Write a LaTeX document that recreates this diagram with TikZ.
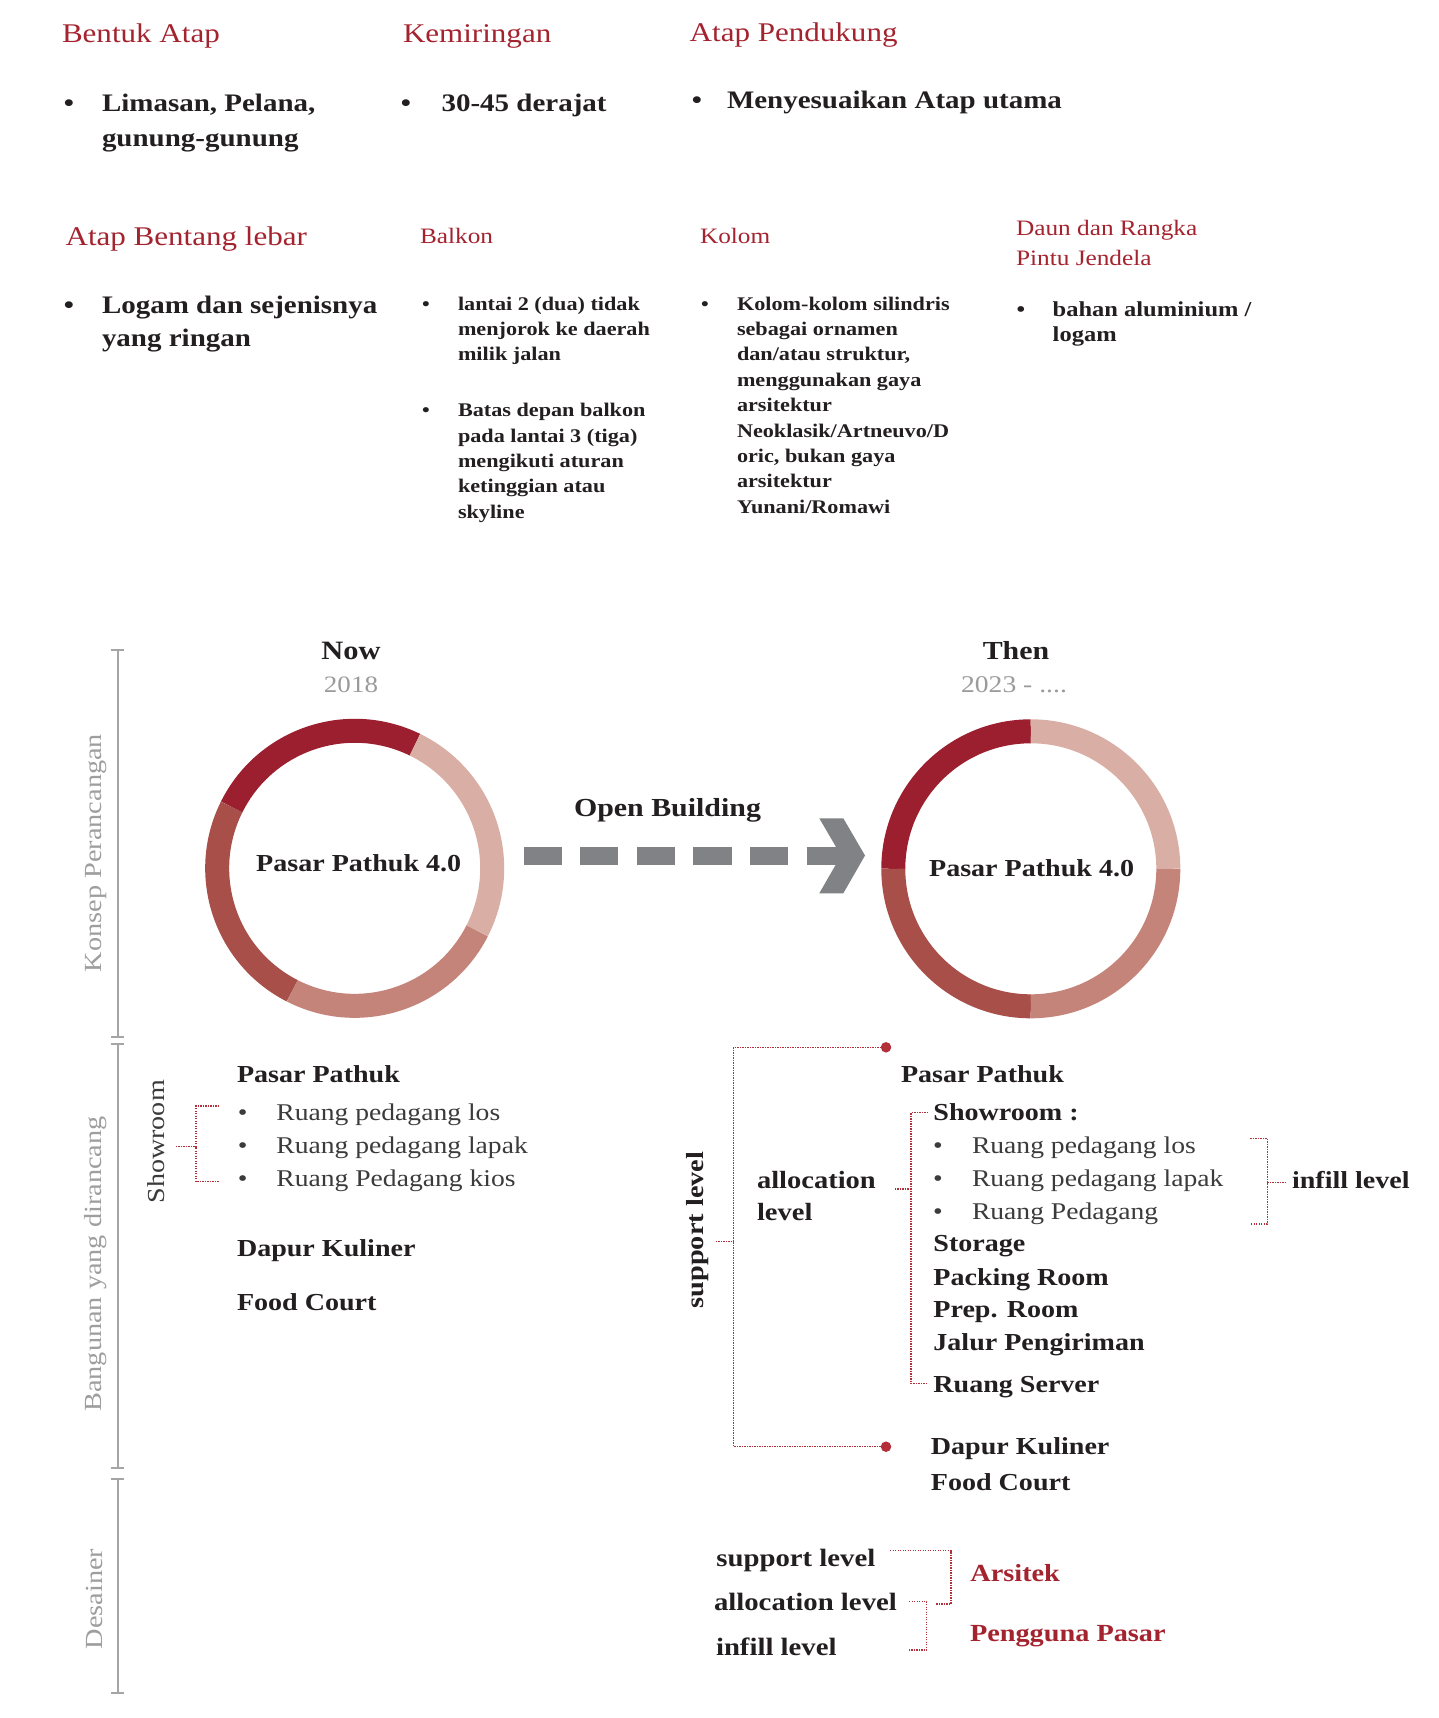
\documentclass[tikz,border=0pt]{standalone}
\usepackage{fontspec}
\setmainfont{Liberation Serif}[FakeStretch=1.15]
\usetikzlibrary{calc}
\definecolor{hred}{HTML}{A3232F}
\definecolor{ink}{HTML}{231F20}
\definecolor{soft}{HTML}{3B3B3B}
\definecolor{axisg}{HTML}{A5A5A5}
\definecolor{labg}{HTML}{9E9E9E}
\definecolor{yearg}{HTML}{9B9B9B}
\definecolor{arrg}{HTML}{808285}
\definecolor{rA}{HTML}{9B1F2E}
\definecolor{rB}{HTML}{A94F49}
\definecolor{rC}{HTML}{C5847A}
\definecolor{rD}{HTML}{D9AFA5}
\definecolor{dotr}{HTML}{B3303A}
\newcommand\fsz[1]{\fontsize{#1}{#1}\selectfont}
\newcommand\mlines[2]{\vtop{\baselineskip=#1\relax\lineskiplimit=-1000pt\halign{##\hfil\cr#2\crcr}}}
\tikzset{
  base/.style={inner sep=0pt, outer sep=0pt, anchor=base west},
  headA/.style={base, text=hred, font=\fsz{27}},
  headB/.style={base, text=hred, font=\fsz{22}},
  bigb/.style={base, text=ink, font=\fsz{25.2}\bfseries},
  smallb/.style={base, text=ink, font=\fsz{19.3}\bfseries},
  midb/.style={base, text=ink, font=\fsz{21.3}\bfseries},
  body/.style={base, text=ink, font=\fsz{24.4}\bfseries},
  soft/.style={base, text=soft, font=\fsz{24}},
  bul/.style={inner sep=0pt, anchor=base},
  sidelab/.style={inner sep=0pt, rotate=90, text=labg, font=\fsz{24.6}},
  axisline/.style={axisg, line width=2pt},
  dotline/.style={dotr, line width=1.5pt, dash pattern=on 1.4pt off 1.1pt},
  reddot/.style={circle, fill=dotr, inner sep=0pt, minimum size=10.5pt},
  redb/.style={base, text=hred, font=\fsz{24.6}\bfseries},
}
\begin{document}
\begin{tikzpicture}[x=1pt,y=1pt]
\fill[white] (0,0) rectangle (1439,-1718);
\path[use as bounding box] (0,0) rectangle (1439,-1718);

% ---------- top row ----------
\node[headA] (h1) at (62,-42.7) {Bentuk Atap};
\node[headA] (h2) at (403,-42.7) {Kemiringan};
\node[headA] (h3) at (689.7,-41.7) {Atap Pendukung};
\node[bul, font=\fsz{25.2}\bfseries, text=ink] (b1) at (69,-111.7) {•};
\node[bigb] (t1) at (102,-111.7) {\mlines{35pt}{Limasan, Pelana,\cr gunung-gunung}};
\node[bul, font=\fsz{25.2}\bfseries, text=ink] (b2) at (406,-111.7) {•};
\node[bigb] (t2) at (441.6,-111.7) {30-45 derajat};
\node[bul, font=\fsz{25.2}\bfseries, text=ink] (b3) at (697,-109) {•};
\node[bigb] (t3) at (727,-109) {Menyesuaikan Atap utama};

% ---------- second row ----------
\node[headA] (h4) at (65.6,-245) {Atap Bentang lebar};
\node[bul, font=\fsz{25.2}\bfseries, text=ink] (b4) at (69,-313.3) {•};
\node[bigb] (t4) at (102,-313.3) {\mlines{33.4pt}{Logam dan sejenisnya\cr yang ringan}};

\node[headB] (h5) at (420,-243.3) {Balkon};
\node[bul, font=\fsz{19.1}\bfseries, text=ink] (b5) at (426,-310) {•};
\node[smallb] (t5) at (458,-310) {\mlines{25.3pt}{lantai 2 (dua) tidak\cr menjorok ke daerah\cr milik jalan}};
\node[bul, font=\fsz{19.1}\bfseries, text=ink] (b6) at (426,-416.7) {•};
\node[smallb] (t6) at (458,-416.7) {\mlines{25.4pt}{Batas depan balkon\cr pada lantai 3 (tiga)\cr mengikuti aturan\cr ketinggian atau\cr skyline}};

\node[headB] (h6) at (700,-243.3) {Kolom};
\node[bul, font=\fsz{19.1}\bfseries, text=ink] (b7) at (705,-310) {•};
\node[smallb] (t7) at (737,-310) {\mlines{25.4pt}{Kolom-kolom silindris\cr sebagai ornamen\cr dan/atau struktur,\cr menggunakan gaya\cr arsitektur\cr Neoklasik/Artneuvo/D\cr oric, bukan gaya\cr arsitektur\cr Yunani/Romawi}};

\node[headB] (h7) at (1016,-235) {\mlines{30pt}{Daun dan Rangka\cr Pintu Jendela}};
\node[bul, font=\fsz{21.3}\bfseries, text=ink] (b8) at (1021,-316.7) {•};
\node[midb] (t8) at (1052.7,-316.7) {\mlines{25pt}{bahan aluminium /\cr logam}};

% ---------- left axis ----------
\coordinate (a1) at (117.5,-650);
\coordinate (a2) at (117.5,-1036.7);
\coordinate (a3) at (117.5,-1044);
\coordinate (a4) at (117.5,-1468.3);
\coordinate (a5) at (117.5,-1479);
\coordinate (a6) at (117.5,-1692.7);
\draw[axisline] (a1) -- (a2);
\draw[axisline] (a3) -- (a4);
\draw[axisline] (a5) -- (a6);
\foreach \p in {a1,a2,a3,a4,a5,a6}
  \draw[axisline] ([xshift=-6.7pt]\p) -- ([xshift=6.7pt]\p);
\node[sidelab] (s1) at (96.4,-853) {Konsep Perancangan};
\node[sidelab] (s2) at (96,-1264) {Bangunan yang dirancang};
\node[sidelab] (s3) at (94.4,-1599) {Desainer};

% ---------- circles ----------
\node[inner sep=0pt, anchor=base, text=ink, font=\fsz{26.5}\bfseries] (now) at (351,-659.3) {Now};
\node[inner sep=0pt, anchor=base, text=yearg, font=\fsz{23.5}] (y1) at (351,-692.7) {2018};
\node[inner sep=0pt, anchor=base, text=ink, font=\fsz{26}\bfseries] (then) at (1016,-659.3) {Then};
\node[inner sep=0pt, anchor=base, text=yearg, font=\fsz{24}] (y2) at (1014,-692.7) {2023 - ....};

\coordinate (L) at (354.7,-868.3);
\coordinate (R) at (1030.8,-868.8);
\foreach \a/\b/\c in {64/153.5/rA,153.5/243/rB,243/333/rC,333/424/rD}
  \draw[\c, line width=24pt] ([shift={(\a:137.5)}]L) arc[start angle=\a, end angle=\b, radius=137.5];
\foreach \a/\b/\c in {90/180/rA,180/270/rB,270/360/rC,0/90/rD}
  \draw[\c, line width=24pt] ([shift={(\a:137.5)}]R) arc[start angle=\a, end angle=\b, radius=137.5];
\node[inner sep=0pt, anchor=base, text=ink, font=\fsz{24.4}\bfseries] (pl) at (358.7,-871.5) {Pasar Pathuk 4.0};
\node[inner sep=0pt, anchor=base, text=ink, font=\fsz{24.4}\bfseries] (pr) at (1031.6,-876) {Pasar Pathuk 4.0};

% ---------- open building arrow ----------
\node[base, text=ink, font=\fsz{26}\bfseries] (ob) at (574,-816.7) {Open Building};
\coordinate (ds) at (523.6,-855.5);
\coordinate (de) at (842,-855.5);
\draw[arrg, line width=18pt, dash pattern=on 38.2pt off 18.4pt] (ds) -- (de);
\fill[arrg] (819.3,-818.3) -- (843.3,-818.3) -- (865,-855.5) -- (843.3,-893.3) -- (819.3,-893.3) -- (841,-855.5) -- cycle;

% ---------- left lower ----------
\node[inner sep=0pt, rotate=90, text=soft, font=\fsz{24.4}] (sh) at (155.7,-1141.7) {Showroom};
\node[body] (pp1) at (237,-1082.7) {Pasar Pathuk};
\foreach \y/\t [count=\i] in {1120/Ruang pedagang los,1153.3/Ruang pedagang lapak,1186.7/Ruang Pedagang kios}{
  \node[bul, font=\fsz{24}, text=soft] (lb\i) at (242.7,-\y) {•};
  \node[soft] (lt\i) at (276.4,-\y) {\t};
}
\coordinate (sbs) at (175.7,-1146.7);
\coordinate (sbm) at (196,-1146.7);
\coordinate (sbt) at (219,-1106);
\coordinate (sbb) at (219,-1181.7);
\draw[dotline] (sbs) -- (sbm);
\draw[dotline] (sbt) -| (sbm) |- (sbb);
\node[body] (dk1) at (237,-1256.7) {Dapur Kuliner};
\node[body] (fc1) at (237,-1310) {Food Court};

% ---------- right lower ----------
\node[reddot] (d1) at (886,-1047.3) {};
\node[reddot] (d2) at (886,-1446.7) {};
\coordinate (spm) at (733.5,-1241.7);
\coordinate (sps) at (715.7,-1241.7);
\draw[dotline] (d1.center) -| (spm) |- (d2.center);
\draw[dotline] (sps) -- (spm);
\node[inner sep=0pt, rotate=90, text=ink, font=\fsz{24.6}\bfseries] (spl) at (697.3,-1230) {support level};

\node[body, font=\fsz{24.8}\bfseries] (al) at (757,-1188.3) {\mlines{31.7pt}{allocation\cr level}};
\coordinate (als) at (894.6,-1189);
\coordinate (alm) at (911,-1189);
\coordinate (alt) at (928,-1112.7);
\coordinate (alb) at (928,-1383.3);
\draw[dotline] (als) -- (alm);
\draw[dotline] (alt) -| (alm) |- (alb);

\node[body] (pp2) at (901,-1082.7) {Pasar Pathuk};
\node[body] (sr) at (933.4,-1120) {Showroom :};
\foreach \y/\t [count=\i] in {1153.3/Ruang pedagang los,1186.7/Ruang pedagang lapak,1219.3/Ruang Pedagang}{
  \node[bul, font=\fsz{24}, text=soft] (rb\i) at (938,-\y) {•};
  \node[soft] (rt\i) at (972,-\y) {\t};
}
\node[body] (st) at (933.4,-1251.7) {Storage};
\node[body] (pk) at (933.4,-1285) {Packing Room};
\node[body] (pr2) at (933.4,-1317.3) {Prep. Room};
\node[body] (jp) at (933.4,-1350.7) {Jalur Pengiriman};
\node[body] (rs) at (933.4,-1392.7) {Ruang Server};
\node[body] (dk2) at (930.9,-1454) {Dapur Kuliner};
\node[body] (fc2) at (930.9,-1490) {Food Court};

\coordinate (ift) at (1250.4,-1138.3);
\coordinate (ifb) at (1250.4,-1224);
\coordinate (ifm) at (1267.3,-1182.7);
\coordinate (ifs) at (1285,-1182.7);
\draw[dotline] (ift) -| (ifm) |- (ifb);
\draw[dotline] (ifm) -- (ifs);
\node[body] (il) at (1292,-1188.3) {infill level};

% ---------- designer ----------
\node[body, font=\fsz{25}\bfseries] (ds1) at (716.4,-1566) {support level};
\node[body, font=\fsz{25}\bfseries] (ds2) at (714,-1610) {allocation level};
\node[body, font=\fsz{25}\bfseries] (ds3) at (716,-1655) {infill level};
\coordinate (ar1) at (890,-1550.7);
\coordinate (ar2) at (951,-1604);
\coordinate (ar3) at (936,-1604);
\draw[dotline] (ar1) -| (ar2) -- (ar3);
\coordinate (pg1) at (909,-1601.7);
\coordinate (pg2) at (926.7,-1650);
\coordinate (pg3) at (909,-1650);
\draw[dotline] (pg1) -| (pg2) -- (pg3);
\node[redb] (ars) at (970.4,-1581.7) {Arsitek};
\node[redb] (pgp) at (970,-1641.7) {Pengguna Pasar};
\end{tikzpicture}
\end{document}
